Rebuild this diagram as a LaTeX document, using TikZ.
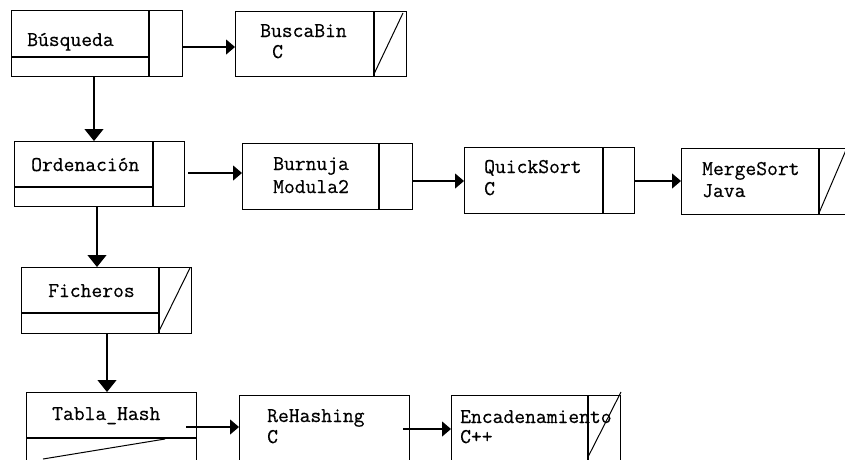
\documentclass[tikz,border=0pt]{standalone}
\usepackage{fontspec}
\newfontfamily\cour[FakeBold=0.5]{Latin Modern Mono}
\usetikzlibrary{arrows.meta}
\tikzset{
  ln/.style={line width=1.2pt, black},
  box/.style={draw, line width=1.2pt, rectangle, inner sep=0pt, anchor=north west},
  lbl/.style={inner sep=0pt, anchor=base west, font=\cour\fontsize{21}{22}\selectfont},
  harr/.style={ln, -{Triangle[length=9pt,width=15pt]}},
  varr/.style={ln, -{Triangle[length=12pt,width=19pt]}},
  diag/.style={line width=1pt}
}
\begin{document}
\begin{tikzpicture}[x=1pt,y=-1pt]
\useasboundingbox (0,0) rectangle (845,459);
% Busqueda
\node[box, minimum width=171pt, minimum height=66pt] (bus) at (11,10) {};
\draw[ln] (149,10) -- (149,76);
\draw[ln] (11,57) -- (149,57);
\node[lbl] (tbus) at (27,46) {Búsqueda};
% BuscaBin
\node[box, minimum width=171pt, minimum height=65pt] (bbin) at (235,11) {};
\draw[ln] (374,11) -- (374,76);
\draw[diag] (374,74) -- (403,13);
\node[lbl] (tbb) at (260,37) {BuscaBin};
\node[lbl] (tbbc) at (272,58) {C};
% Ordenacion
\node[box, minimum width=170pt, minimum height=65pt] (ord) at (14,141) {};
\draw[ln] (153,141) -- (153,206);
\draw[ln] (14,187) -- (153,187);
\node[lbl] (tord) at (31,171) {Ordenación};
% Burnuja
\node[box, minimum width=170pt, minimum height=66pt] (bur) at (242,143) {};
\draw[ln] (379,143) -- (379,209);
\node[lbl] (tbur) at (273,170) {Burnuja};
\node[lbl] (tbur2) at (273,193) {Modula2};
% QuickSort
\node[box, minimum width=170pt, minimum height=66pt] (qs) at (464,147) {};
\draw[ln] (603,147) -- (603,213);
\node[lbl] (tqs) at (484,173) {QuickSort};
\node[lbl] (tqs2) at (484,195) {C};
% MergeSort
\node[box, minimum width=172pt, minimum height=66pt] (ms) at (681,148) {};
\draw[ln] (819,148) -- (819,214);
\draw[diag] (819,213) -- (846,150);
\node[lbl] (tms) at (702,175) {MergeSort};
\node[lbl] (tms2) at (702,197) {Java};
% Ficheros
\node[box, minimum width=170pt, minimum height=66pt] (fic) at (21,267) {};
\draw[ln] (159,267) -- (159,333);
\draw[ln] (21,313) -- (159,313);
\draw[diag] (159,331) -- (190,268);
\node[lbl] (tfic) at (48,297) {Ficheros};
% Tabla_Hash
\node[box, minimum width=170pt, minimum height=80pt] (tab) at (26,392) {};
\draw[ln] (26,438) -- (196,438);
\draw[diag] (43,459) -- (165,439);
\node[lbl] (ttab) at (52,420) {Tabla\_Hash};
% ReHashing
\node[box, minimum width=170pt, minimum height=77pt] (reh) at (239,395) {};
\node[lbl] (treh) at (267,422) {ReHashing};
\node[lbl] (treh2) at (267,443) {C};
% Encadenamiento
\node[box, minimum width=169pt, minimum height=77pt] (enc) at (451,395) {};
\draw[ln] (588,395) -- (588,472);
\draw[diag] (588,457) -- (621,392);
\node[lbl] (tenc) at (460,423) {Encadenamiento};
\node[lbl] (tenc2) at (460,443) {C++};
% connectors
\draw[harr] (bus.east |- 0,47) -- (bbin.west |- 0,47);
\draw[harr] (ord.east |- 0,173) ++(3,0) -- (bur.west |- 0,173);
\draw[harr] (bur.east |- 0,181) -- (qs.west |- 0,181);
\draw[harr] (qs.east |- 0,181) -- (ms.west |- 0,181);
\draw[harr] (tab.east |- 0,427) ++(-11,0) -- (reh.west |- 0,427);
\draw[harr] (reh.east |- 0,429) ++(-7,0) -- (enc.west |- 0,429);
\draw[varr] (bus.south -| 94,0) -- (94,136) -- (ord.north -| 94,0);
\draw[varr] (ord.south -| 97,0) -- (fic.north -| 97,0);
\draw[varr] (fic.south -| 107,0) -- (tab.north -| 107,0);
\end{tikzpicture}
\end{document}
